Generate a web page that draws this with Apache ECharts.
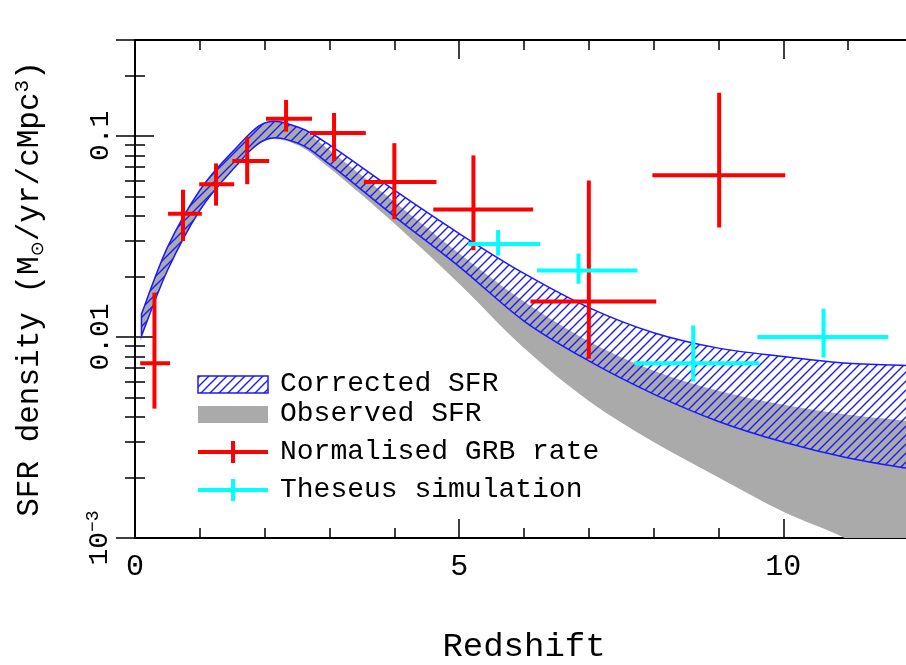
<!DOCTYPE html>
<html><head><meta charset="utf-8">
<script src="https://cdn.jsdelivr.net/npm/echarts@6/dist/echarts.min.js"></script>
<style>html,body{margin:0;padding:0;background:#fff;overflow:hidden}#c{width:906px;height:665px}</style>
</head><body><div id="c"></div>
<script>
// Band samples (redshift, SFR density)
const bandZ = [0.1, 0.5, 1, 1.5, 2, 2.5, 3, 4, 5, 6, 7, 8, 9, 10, 11, 12];
const corrUpper = [0.0130,0.0279,0.0537,0.0832,0.116,0.111,0.0902,0.0537,0.0327,0.0207,0.0140,0.0105,0.0088,0.0080,0.0074,0.0072];
const corrLower = [0.0101,0.0214,0.0427,0.0676,0.0955,0.0923,0.0724,0.0398,0.0224,0.0120,0.0076,0.0052,0.0038,0.0030,0.0025,0.0022];
const obsUpper  = [0.0130,0.0279,0.0537,0.0832,0.116,0.111,0.085,0.047,0.026,0.0150,0.0095,0.0068,0.0054,0.0046,0.0041,0.0038];
const obsLower  = [0.0101,0.0214,0.0427,0.0676,0.0944,0.0902,0.0692,0.0367,0.0184,0.0088,0.0048,0.0030,0.0020,0.00135,0.00098,0.00063];
// GRB points: [z, zLo, zHi, y, yLo, yHi]
const grbPoints = [
 [0.30,0.08,0.54,0.0074,0.0044,0.0166],
 [0.74,0.51,1.03,0.041,0.030,0.054],
 [1.25,0.99,1.53,0.0575,0.045,0.073],
 [1.73,1.50,2.07,0.075,0.0575,0.099],
 [2.33,2.02,2.73,0.1217,0.105,0.151],
 [3.07,2.70,3.56,0.1035,0.075,0.130],
 [4.00,3.53,4.65,0.059,0.0385,0.092],
 [5.22,4.60,6.14,0.043,0.027,0.080],
 [7.00,6.10,8.04,0.015,0.0078,0.060],
 [9.01,7.98,10.03,0.0638,0.035,0.164]
];
const theseusPoints = [
 [5.60,5.14,6.25,0.029,0.0254,0.034],
 [6.84,6.20,7.75,0.0214,0.0184,0.026],
 [8.61,7.70,9.63,0.0074,0.0060,0.0114],
 [10.62,9.60,11.62,0.0100,0.0079,0.0138]
];
const legendLabels = ['Corrected SFR','Observed SFR','Normalised GRB rate','Theseus simulation'];
const xTickLabels = {0:'0',5:'5',10:'10'};
const yTickLabels = {'0.1':'0.1','0.01':'0.01','0.001':'{b|10}{s|−3}'};

const FONT = 'Liberation Mono';
const pc = document.createElement('canvas'); pc.width = 9; pc.height = 9;
const g = pc.getContext('2d'); g.strokeStyle = '#1a1aff'; g.lineWidth = 1.4;
g.beginPath(); g.moveTo(-1,10); g.lineTo(10,-1); g.moveTo(-1,1); g.lineTo(1,-1); g.moveTo(8,10); g.lineTo(10,8); g.stroke();
const hatch = {image: pc, repeat: 'repeat'};

function crPath(pts, moveFirst) {
  let d = (moveFirst ? 'M' : 'L') + pts[0][0] + ' ' + pts[0][1];
  for (let i = 0; i < pts.length - 1; i++) {
    const p0 = pts[Math.max(0, i-1)], p1 = pts[i], p2 = pts[i+1], p3 = pts[Math.min(pts.length-1, i+2)];
    const c1 = [p1[0] + (p2[0]-p0[0])/6, p1[1] + (p2[1]-p0[1])/6];
    const c2 = [p2[0] - (p3[0]-p1[0])/6, p2[1] - (p3[1]-p1[1])/6];
    d += ' C' + c1[0] + ' ' + c1[1] + ' ' + c2[0] + ' ' + c2[1] + ' ' + p2[0] + ' ' + p2[1];
  }
  return d;
}
function bandSeries(lo, hi, fill, stroke) {
  return {
    type: 'custom', clip: true, z: stroke ? 3 : 2,
    data: [0],
    renderItem: function (params, api) {
      const top = bandZ.map((z, i) => api.coord([z, hi[i]]));
      const bot = bandZ.map((z, i) => api.coord([z, lo[i]])).reverse();
      const d = crPath(top, true) + ' ' + crPath(bot, false) + ' Z';
      return {type: 'path', shape: {pathData: d}, style: {fill: fill, stroke: stroke || null, lineWidth: 1.5}};
    }
  };
}
function crossSeries(pts, color) {
  return {
    type: 'custom', z: 5, data: pts,
    renderItem: function (params, api) {
      const p = pts[params.dataIndex];
      const a = api.coord([p[1], p[3]]), b = api.coord([p[2], p[3]]);
      const c = api.coord([p[0], p[4]]), d = api.coord([p[0], p[5]]);
      const st = {stroke: color, lineWidth: 4};
      return {type: 'group', children: [
        {type: 'line', shape: {x1: a[0], y1: a[1], x2: b[0], y2: b[1]}, style: st},
        {type: 'line', shape: {x1: c[0], y1: c[1], x2: d[0], y2: d[1]}, style: st}]};
    }
  };
}
const tickStyle = {color: '#000', width: 1.5};
const axisCommon = {axisLine: {lineStyle: {color: '#000', width: 2}}, axisTick: {inside: true, length: 19, lineStyle: tickStyle}, splitLine: {show: false}};
const xMinor = {minorTick: {show: true, splitNumber: 5, length: 10, lineStyle: tickStyle}};
const yMinor = {minorTick: {show: true, splitNumber: 9, length: 10, lineStyle: tickStyle}};
const yLabel = {rotate: 90, fontFamily: FONT, fontSize: 28, color: '#000', margin: 20,
  formatter: v => yTickLabels[String(+v.toPrecision(3))] || '',
  rich: {b: {fontFamily: FONT, fontSize: 28, color: '#000'}, s: {fontFamily: FONT, fontSize: 18, color: '#000', verticalAlign: 'top', padding: [0,0,13,0]}}};

const chart = echarts.init(document.getElementById('c'));
const lx = 198, rowY = [384, 414, 452, 490];
chart.setOption({
  animation: false,
  grid: {left: 135, width: 778, top: 40, height: 498, outerBoundsMode: 'none', containLabel: false},
  xAxis: [
    Object.assign({type: 'value', min: 0, max: 12, interval: 5, position: 'bottom',
      axisLabel: {fontFamily: FONT, fontSize: 30, color: '#000', margin: 14, formatter: v => xTickLabels[v] || ''},
      name: 'Redshift', nameLocation: 'middle', nameGap: 92, nameTextStyle: {fontFamily: FONT, fontSize: 34, color: '#000'}}, axisCommon, xMinor),
    Object.assign({type: 'value', min: 0, max: 12, interval: 5, position: 'top', axisLabel: {show: false}}, axisCommon, xMinor)
  ],
  yAxis: [
    Object.assign({type: 'log', logBase: 10, min: 0.001, max: 0.3, position: 'left', axisLabel: yLabel,
      name: 'SFR density (M{sub|⊙}/yr/cMpc{sup|3})', nameLocation: 'middle', nameRotate: 90, nameGap: 88,
      nameTextStyle: {fontFamily: FONT, fontSize: 31, color: '#000',
        rich: {sub: {fontFamily: 'DejaVu Sans', fontSize: 18, color: '#000', verticalAlign: 'bottom', padding: [14,0,0,0]},
               sup: {fontFamily: FONT, fontSize: 21, color: '#000', verticalAlign: 'top', padding: [0,0,14,0]}}}}, axisCommon, yMinor),
    Object.assign({type: 'log', logBase: 10, min: 0.001, max: 0.3, position: 'right', axisLabel: {show: false}}, axisCommon, yMinor)
  ],
  series: [
    bandSeries(obsLower, obsUpper, '#aaaaaa', null),
    bandSeries(corrLower, corrUpper, hatch, '#1a1aff'),
    crossSeries(grbPoints, '#ff0000'),
    crossSeries(theseusPoints, '#00ffff')
  ],
  graphic: [
    {type: 'rect', shape: {x: lx, y: rowY[0]-8, width: 70, height: 17}, style: {fill: hatch, stroke: '#1a1aff', lineWidth: 1.5}, z: 10},
    {type: 'rect', shape: {x: lx, y: rowY[1]-8, width: 70, height: 17}, style: {fill: '#aaaaaa'}, z: 10},
    {type: 'line', shape: {x1: lx, y1: rowY[2], x2: lx+70, y2: rowY[2]}, style: {stroke: '#ff0000', lineWidth: 4}, z: 10},
    {type: 'line', shape: {x1: lx+35, y1: rowY[2]-11, x2: lx+35, y2: rowY[2]+11}, style: {stroke: '#ff0000', lineWidth: 4}, z: 10},
    {type: 'line', shape: {x1: lx, y1: rowY[3], x2: lx+70, y2: rowY[3]}, style: {stroke: '#00ffff', lineWidth: 4}, z: 10},
    {type: 'line', shape: {x1: lx+35, y1: rowY[3]-11, x2: lx+35, y2: rowY[3]+11}, style: {stroke: '#00ffff', lineWidth: 4}, z: 10}
  ].concat(legendLabels.map((t, i) => ({type: 'text', x: 280, y: rowY[i], z: 10,
      style: {text: t, font: '28px "' + FONT + '"', fill: '#000', textVerticalAlign: 'middle'}})))
});
</script></body></html>
